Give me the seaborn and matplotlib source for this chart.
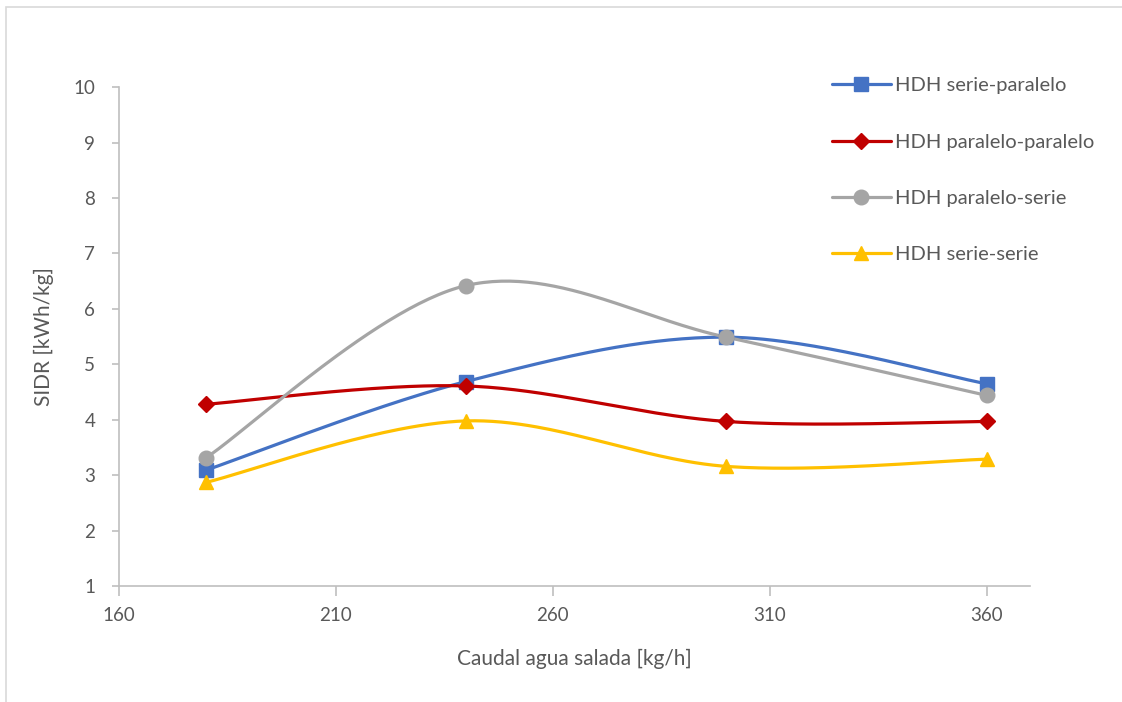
import numpy as np
import pandas as pd
import matplotlib
matplotlib.use("Agg")
import matplotlib.pyplot as plt
from matplotlib.lines import Line2D
from matplotlib.patches import Rectangle
import seaborn as sns

# Salt-water flow rate [kg/h]
caudal = [180, 240, 300, 360]

# SIDR [kWh/kg] for each HDH configuration
serie_paralelo = [3.09, 4.69, 5.49, 4.65]
paralelo_paralelo = [4.28, 4.61, 3.97, 3.97]
paralelo_serie = [3.31, 6.42, 5.49, 4.44]
serie_serie = [2.87, 3.98, 3.16, 3.29]

names = ["HDH serie-paralelo", "HDH paralelo-paralelo", "HDH paralelo-serie", "HDH serie-serie"]
colors = ["#4472C4", "#C00000", "#A5A5A5", "#FFC000"]
markers = ["s", "D", "o", "^"]
msizes = [9.5, 8, 10.5, 10.5]

x_ticks = [160, 210, 260, 310, 360]
y_ticks = list(range(1, 11))

sns.set_theme(style="white")
plt.rcParams["font.family"] = ["Lato", "DejaVu Sans"]


def smooth(xs, ys, n=60):
    """Cubic Bezier smoothing through every point (spreadsheet-style)."""
    p = np.column_stack([xs, ys]).astype(float)
    out = []
    for i in range(len(p) - 1):
        p0 = p[i - 1] if i > 0 else p[i]
        p1, p2 = p[i], p[i + 1]
        p3 = p[i + 2] if i + 2 < len(p) else p[i + 1]
        c1 = p1 + (p2 - p0) / 6.0
        c2 = p2 - (p3 - p1) / 6.0
        t = np.linspace(0, 1, n)[:, None]
        seg = ((1 - t) ** 3) * p1 + 3 * ((1 - t) ** 2) * t * c1 + 3 * (1 - t) * t ** 2 * c2 + t ** 3 * p2
        out.append(seg if i == 0 else seg[1:])
    s = np.vstack(out)
    return s[:, 0], s[:, 1]


fig = plt.figure(figsize=(11.22, 7.02), dpi=100)
fig.patches.append(Rectangle((0.005, -0.01), 1.2, 1.0, transform=fig.transFigure,
                             fill=False, edgecolor="#D9D9D9", lw=1.2))
ax = fig.add_axes([0.106, 0.165, 0.812, 0.711])

series = [serie_paralelo, paralelo_paralelo, paralelo_serie, serie_serie]
handles = []
for vals, name, c, m, ms in zip(series, names, colors, markers, msizes):
    sx, sy = smooth(caudal, vals)
    sns.lineplot(x=sx, y=sy, color=c, lw=2.3, sort=False, ax=ax, estimator=None)
    ax.plot(caudal, vals, linestyle="none", marker=m, markersize=ms, color=c, zorder=3)
    handles.append(Line2D([0], [0], color=c, lw=2.3, marker=m, markersize=ms, label=name))

ax.set_xlim(160, 370)
ax.set_ylim(1, 10)
ax.set_xticks(x_ticks)
ax.set_yticks(y_ticks)

for side in ["top", "right"]:
    ax.spines[side].set_visible(False)
for side in ["left", "bottom"]:
    ax.spines[side].set_color("#BFBFBF")
    ax.spines[side].set_linewidth(1.2)

ax.tick_params(axis="x", direction="out", length=7, width=1.2, color="#BFBFBF",
               labelsize=13.5, labelcolor="#595959", pad=8, bottom=True)
ax.tick_params(axis="y", direction="out", length=5, width=1.2, color="#BFBFBF",
               labelsize=13.5, labelcolor="#595959", pad=12, left=True)

ax.set_xlabel("Caudal agua salada [kg/h]", fontsize=15, color="#595959", labelpad=18)
ax.set_ylabel("SIDR [kWh/kg]", fontsize=15, color="#595959", labelpad=14)

leg = ax.legend(handles=handles, loc="upper left", bbox_to_anchor=(0.763, 1.056),
                frameon=False, fontsize=14.5, handlelength=2.9, handletextpad=0.2,
                labelspacing=1.95, labelcolor="#595959")

fig.savefig("out.png", dpi=100, facecolor="white")
